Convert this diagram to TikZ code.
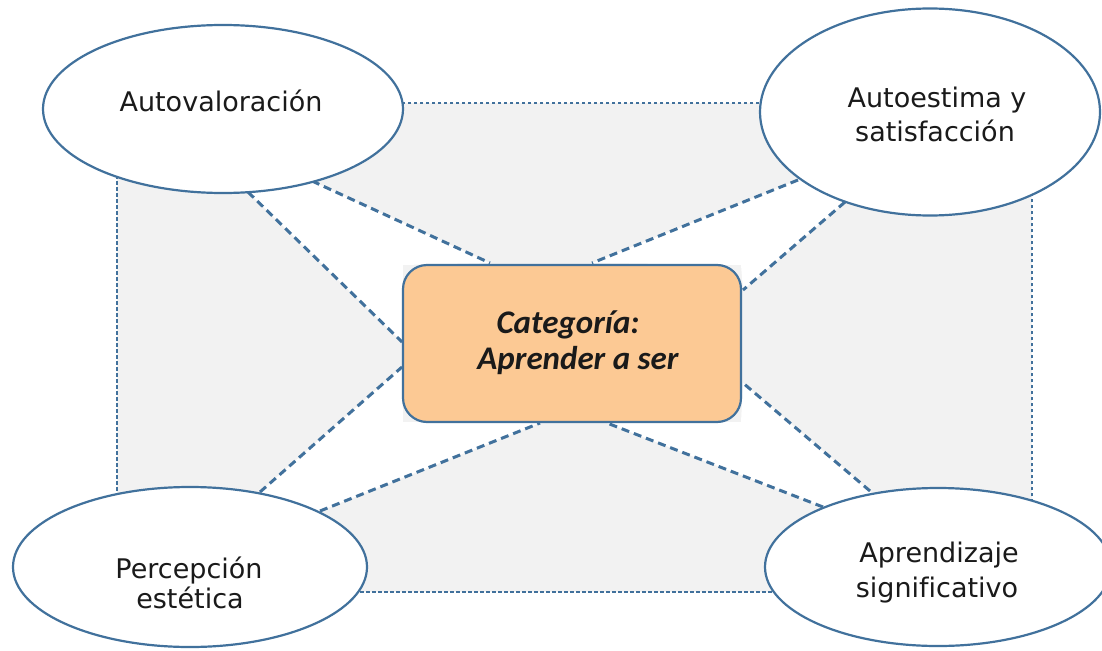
\documentclass[tikz,border=0pt]{standalone}
\usepackage{fontspec}
\setmainfont{DejaVu Sans}[Ligatures=NoCommon]
\newfontfamily\boxfont{Carlito}
\usetikzlibrary{shapes.geometric}
\definecolor{linecol}{HTML}{41719C}
\definecolor{bggray}{HTML}{F2F2F2}
\definecolor{peach}{HTML}{FCC994}
\definecolor{txtcol}{HTML}{1A1A1A}
\begin{document}
\begin{tikzpicture}[x=1pt,y=-1pt,
  bubble/.style={ellipse, draw=linecol, line width=2.2pt, fill=white, inner sep=0pt},
  catbox/.style={rectangle, rounded corners=24pt, draw=linecol, line width=2.2pt, fill=peach, inner sep=0pt},
  link/.style={draw=linecol, line width=3pt, dash pattern=on 8pt off 5pt},
  frame/.style={draw=linecol, line width=2.2pt, dash pattern=on 3.5pt off 2.5pt},
  lbl/.style={anchor=base, inner sep=0pt, text=txtcol, font=\fontsize{27}{32}\selectfont},
  boxlbl/.style={anchor=base, inner sep=0pt, text=txtcol, font=\boxfont\bfseries\itshape\fontsize{33}{40}\selectfont}
]
\useasboundingbox (0,0) rectangle (1102,650);
\clip (0,0) rectangle (1102,650);

% frame corners
\coordinate (r1) at (117,103);
\coordinate (r2) at (1032,592);
\fill[bggray] (r1) rectangle (r2);

% connector end points
\coordinate (a1) at (248,192); \coordinate (a2) at (402,342);
\coordinate (b1) at (312,181); \coordinate (b2) at (490,263);
\coordinate (c1) at (798,180); \coordinate (c2) at (592,263);
\coordinate (d1) at (845,202); \coordinate (d2) at (743,290);
\coordinate (e1p) at (260,492); \coordinate (e2p) at (402,367);
\coordinate (f1) at (320,511); \coordinate (f2) at (540,423);
\coordinate (g1) at (823,507); \coordinate (g2) at (607,423);
\coordinate (h1) at (870,491); \coordinate (h2) at (743,383);
\coordinate (k1) at (403,265); \coordinate (k2) at (741,265);
\coordinate (k3) at (403,422); \coordinate (k4) at (741,422);

% white wedges
\fill[white] (a1) -- (a2) -- (k1) -- (b2) -- (b1) -- (223,109) -- cycle;
\fill[white] (c1) -- (c2) -- (k2) -- (d2) -- (d1) -- (930,112) -- cycle;
\fill[white] (e1p) -- (e2p) -- (k3) -- (f2) -- (f1) -- (190,567) -- cycle;
\fill[white] (g1) -- (g2) -- (k4) -- (h2) -- (h1) -- (938,567) -- cycle;

% dashed frame
\draw[frame] (r1) rectangle (r2);

% connectors
\draw[link] (a1) -- (a2);
\draw[link] (b1) -- (b2);
\draw[link] (c1) -- (c2);
\draw[link] (d1) -- (d2);
\draw[link] (e1p) -- (e2p);
\draw[link] (f1) -- (f2);
\draw[link] (g1) -- (g2);
\draw[link] (h1) -- (h2);

% ellipses
\node[bubble, minimum width=360pt, minimum height=168pt] (auto) at (223,109) {};
\node[bubble, minimum width=340pt, minimum height=207pt] (estima) at (930,112) {};
\node[bubble, minimum width=354pt, minimum height=160pt] (perc) at (190,567) {};
\node[bubble, minimum width=346pt, minimum height=158pt] (apr) at (938,567) {};

% central box
\node[catbox, minimum width=338pt, minimum height=157pt] (cat) at (572,343.5) {};

% texts
\node[lbl] (autot) at (221,112) {Autovaloración};
\node[lbl] (estimat1) at (937,108) {Autoestima y};
\node[lbl] (estimat2) at (935,142) {satisfacción};
\node[lbl] (perct1) at (189,578) {Percepción};
\node[lbl] (perct2) at (190,608) {estética};
\node[lbl] (aprt1) at (939,562) {Aprendizaje};
\node[lbl] (aprt2) at (937,597) {significativo};
\node[boxlbl] (catt1) at (568,333) {Categoría:};
\node[boxlbl] (catt2) at (578,369) {Aprender a ser};
\end{tikzpicture}
\end{document}
